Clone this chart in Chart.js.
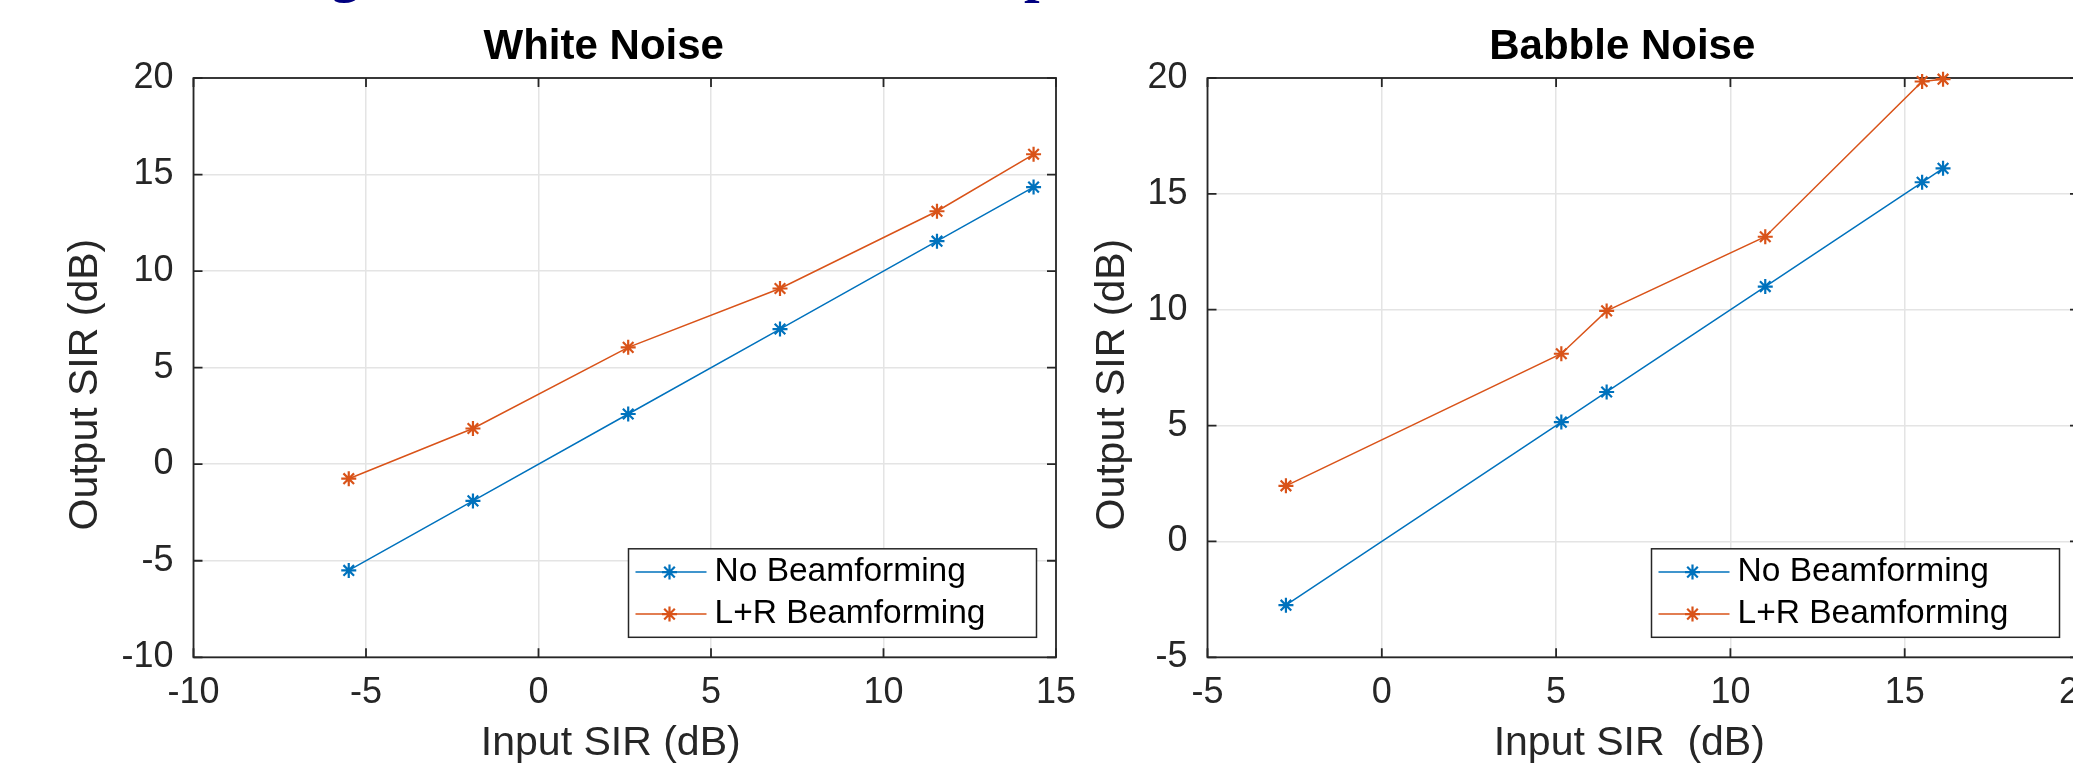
<!DOCTYPE html>
<html>
<head>
<meta charset="utf-8">
<script src="https://cdn.jsdelivr.net/npm/chart.js@4.4.1/dist/chart.umd.min.js"></script>
<style>
  html, body { margin: 0; padding: 0; width: 2073px; height: 768px; overflow: hidden; background: #fff; }
  canvas { position: absolute; top: 0; }
  #white-chart { left: 0; }
  #babble-chart { left: 1080px; }
  .cut { position: absolute; top: -56px; font: bold 56px "Liberation Serif", "DejaVu Serif", serif; line-height: 56px; color: #000080; }
</style>
</head>
<body>
<span class="cut" style="left:331px">g</span>
<span class="cut" style="left:1024px">p</span>
<canvas id="white-chart" width="1100" height="768"></canvas>
<canvas id="babble-chart" width="1100" height="768"></canvas>
<script>
// white noise panel
const whiteInput = [-5.5, -1.9, 2.6, 7.0, 11.55, 14.35];
const whiteNoBf = [-5.5, -1.9, 2.6, 7.0, 11.55, 14.35];
const whiteLR = [-0.75, 1.85, 6.05, 9.1, 13.1, 16.05];
const whiteXTicks = [-10, -5, 0, 5, 10, 15];
const whiteYTicks = [-10, -5, 0, 5, 10, 15, 20];

// babble noise panel
const babbleInput = [-2.75, 5.15, 6.45, 11.0, 15.5, 16.1];
const babbleNoBf = [-2.75, 5.15, 6.45, 11.0, 15.5, 16.1];
const babbleLR = [2.4, 8.1, 9.95, 13.15, 19.85, 19.95];
const babbleXTicks = [-5, 0, 5, 10, 15, 20];
const babbleYTicks = [-5, 0, 5, 10, 15, 20];

const BLUE = '#0072BD';
const ORANGE = '#D95319';
const AXIS_COLOR = '#262626';
const FONT = '"Liberation Sans", Arial, Helvetica, sans-serif';
const TICK = 9;

Chart.defaults.font.family = FONT;
Chart.defaults.color = AXIS_COLOR;

function drawStar(ctx, cx, cy, r) {
  const d = r * Math.SQRT1_2;
  ctx.beginPath();
  ctx.moveTo(cx - r, cy); ctx.lineTo(cx + r, cy);
  ctx.moveTo(cx, cy - r); ctx.lineTo(cx, cy + r);
  ctx.moveTo(cx - d, cy - d); ctx.lineTo(cx + d, cy + d);
  ctx.moveTo(cx - d, cy + d); ctx.lineTo(cx + d, cy - d);
  ctx.stroke();
}

const matlabAxes = {
  id: 'matlabAxes',
  beforeDatasetsDraw(chart) {
    const { ctx, chartArea: a, scales: { x, y } } = chart;
    ctx.save();
    ctx.strokeStyle = AXIS_COLOR;
    ctx.lineWidth = 1.8;
    ctx.strokeRect(a.left, a.top, a.right - a.left, a.bottom - a.top);
    ctx.beginPath();
    x.ticks.forEach(t => {
      const px = x.getPixelForValue(t.value);
      ctx.moveTo(px, a.bottom); ctx.lineTo(px, a.bottom - TICK);
      ctx.moveTo(px, a.top); ctx.lineTo(px, a.top + TICK);
    });
    y.ticks.forEach(t => {
      const py = y.getPixelForValue(t.value);
      ctx.moveTo(a.left, py); ctx.lineTo(a.left + TICK, py);
      ctx.moveTo(a.right, py); ctx.lineTo(a.right - TICK, py);
    });
    ctx.stroke();
    ctx.restore();
  },
  afterDatasetsDraw(chart, args, opts) {
    const { ctx, chartArea: a } = chart;
    const midX = (a.left + a.right) / 2;
    const midY = (a.top + a.bottom) / 2;
    ctx.save();
    // title
    ctx.fillStyle = '#000';
    ctx.font = 'bold 42px ' + FONT;
    ctx.textAlign = 'center';
    ctx.textBaseline = 'alphabetic';
    ctx.fillText(opts.title, midX - 21, 58.5);

    // axis labels
    ctx.fillStyle = AXIS_COLOR;
    ctx.font = '41px ' + FONT;
    ctx.textBaseline = 'middle';
    ctx.fillText(opts.xTitle, midX - 14, 743.5);
    ctx.save();
    ctx.translate(opts.yTitleX, midY + 17);
    ctx.rotate(-Math.PI / 2);
    ctx.fillText(opts.yTitle, 0, 0);
    ctx.restore();

    // legend box
    const w = 408, h = 88.5;
    const left = a.right - 19.5 - w;
    const top = a.bottom - 20 - h;
    ctx.fillStyle = '#fff';
    ctx.fillRect(left, top, w, h);
    ctx.strokeStyle = AXIS_COLOR;
    ctx.lineWidth = 1.5;
    ctx.strokeRect(left, top, w, h);

    chart.data.datasets.forEach((ds, i) => {
      const yy = top + 23.3 + i * 42;
      ctx.strokeStyle = ds.borderColor;
      ctx.lineWidth = 1.5;
      ctx.beginPath();
      ctx.moveTo(left + 7, yy); ctx.lineTo(left + 78, yy);
      ctx.stroke();
      ctx.lineWidth = 2.2;
      drawStar(ctx, left + 41, yy, 7.5);
      ctx.fillStyle = '#000';
      ctx.font = '33.5px ' + FONT;
      ctx.textAlign = 'left';
      ctx.textBaseline = 'middle';
      ctx.fillText(ds.label, left + 86, yy);
    });
    ctx.restore();
  }
};

function series(label, xs, ys, color) {
  return {
    label,
    data: xs.map((x, i) => ({ x, y: ys[i] })),
    borderColor: color,
    backgroundColor: color,
    borderWidth: 1.5,
    pointStyle: 'star',
    pointRadius: 7.5,
    pointBorderWidth: 2.2,
    pointBorderColor: color,
    pointHoverRadius: 7.5,
    tension: 0,
    fill: false,
    clip: 12
  };
}

function axis(ticks, extra) {
  return Object.assign({
    type: 'linear',
    min: ticks[0],
    max: ticks[ticks.length - 1],
    afterBuildTicks: s => { s.ticks = ticks.map(v => ({ value: v })); },
    grid: { color: '#e4e4e4', lineWidth: 1.5, drawTicks: false },
    border: { display: false },
    title: { display: false }
  }, extra);
}

function buildChart(id, p) {
  return new Chart(document.getElementById(id), {
    type: 'line',
    data: {
      datasets: [
        series('No Beamforming', p.input, p.noBf, BLUE),
        series('L+R Beamforming', p.input, p.lr, ORANGE)
      ]
    },
    options: {
      responsive: false,
      animation: false,
      layout: { autoPadding: false, padding: { left: 0, right: p.padRight, top: 78, bottom: 0 } },
      plugins: {
        legend: { display: false },
        tooltip: { enabled: false },
        matlabAxes: { title: p.title, xTitle: p.xTitle, yTitle: 'Output SIR (dB)', yTitleX: p.yTitleX }
      },
      scales: {
        x: axis(p.xTicks, {
          afterFit: s => { s.height = 110.7; },
          ticks: { autoSkip: false, maxRotation: 0, padding: 18, color: AXIS_COLOR, font: { size: 36, lineHeight: 1 } }
        }),
        y: axis(p.yTicks, {
          afterFit: s => { s.width = p.axisLeft; },
          ticks: { autoSkip: false, padding: 20, color: AXIS_COLOR, font: { size: 36, lineHeight: 1 } }
        })
      }
    },
    plugins: [matlabAxes]
  });
}

function main() {
  buildChart('white-chart', {
    title: 'White Noise', input: whiteInput, noBf: whiteNoBf, lr: whiteLR,
    xTicks: whiteXTicks, yTicks: whiteYTicks, xTitle: 'Input SIR (dB)',
    axisLeft: 193.5, padRight: 44, yTitleX: 86
  });
  buildChart('babble-chart', {
    title: 'Babble Noise', input: babbleInput, noBf: babbleNoBf, lr: babbleLR,
    xTicks: babbleXTicks, yTicks: babbleYTicks, xTitle: 'Input SIR  (dB)',
    axisLeft: 127.5, padRight: 101, yTitleX: 33
  });
}

document.addEventListener('DOMContentLoaded', main);
</script>
</body>
</html>
